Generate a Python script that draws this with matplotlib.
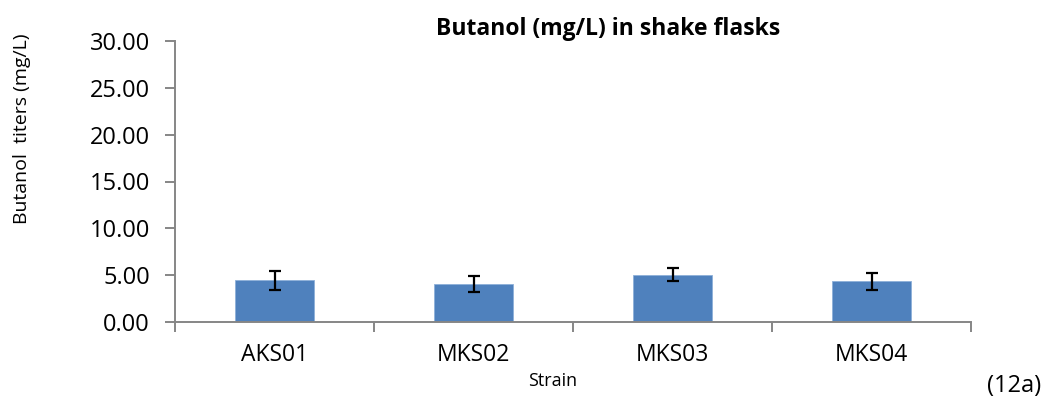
import matplotlib
matplotlib.use("Agg")
import matplotlib.pyplot as plt
import numpy as np

strains = ["AKS01", "MKS02", "MKS03", "MKS04"]
butanol = [4.45, 4.1, 5.05, 4.35]
errors = [1.0, 0.85, 0.68, 0.9]
yticks = [0, 5, 10, 15, 20, 25, 30]

plt.rcParams['font.family'] = ['Open Sans', 'DejaVu Sans']

W, H = 1052, 400
fig = plt.figure(figsize=(W / 100, H / 100), dpi=100)
ax = fig.add_axes([175 / W, 1 - 322 / H, (971 - 175) / W, (322 - 41) / H])

x = np.arange(len(strains))
ax.bar(x, butanol, width=0.4, color="#4f81bd", edgecolor="#8eb0d9", linewidth=0.6, zorder=2)
ax.errorbar(x, butanol, yerr=errors, fmt="none", ecolor="black", elinewidth=1.6,
            capsize=4.5, capthick=1.6, zorder=3)

ax.set_xlim(-0.5, len(strains) - 0.5)
ax.set_ylim(0, 30)
ax.set_yticks(yticks)
ax.set_yticklabels([f"{v:.2f}" for v in yticks], fontsize=17)

ax.set_xticks(np.arange(-0.5, len(strains), 1.0))
ax.set_xticklabels([])
ax.set_xticks(x, minor=True)
ax.set_xticklabels(strains, minor=True, fontsize=16.5)
ax.tick_params(axis="x", which="minor", length=0, pad=15)
ax.tick_params(axis="x", which="major", length=7, color="#868686", width=1.4)
ax.tick_params(axis="y", length=7, color="#868686", width=1.4, pad=11)

for s in ["top", "right"]:
    ax.spines[s].set_visible(False)
for s in ["left", "bottom"]:
    ax.spines[s].set_color("#868686")
    ax.spines[s].set_linewidth(1.4)

fig.text(608 / W, 1 - 29 / H, "Butanol (mg/L) in shake flasks", fontsize=16.5,
         fontweight="bold", ha="center", va="center")
fig.text(553 / W, 1 - 381 / H, "Strain", fontsize=13, ha="center", va="center")
fig.text(22 / W, 1 - 129 / H, "Butanol  titers (mg/L)", fontsize=14, rotation=90,
         ha="center", va="center")
fig.text(1014 / W, 1 - 386 / H, "(12a)", fontsize=17, ha="center", va="center")

fig.savefig("out.png", dpi=100)
